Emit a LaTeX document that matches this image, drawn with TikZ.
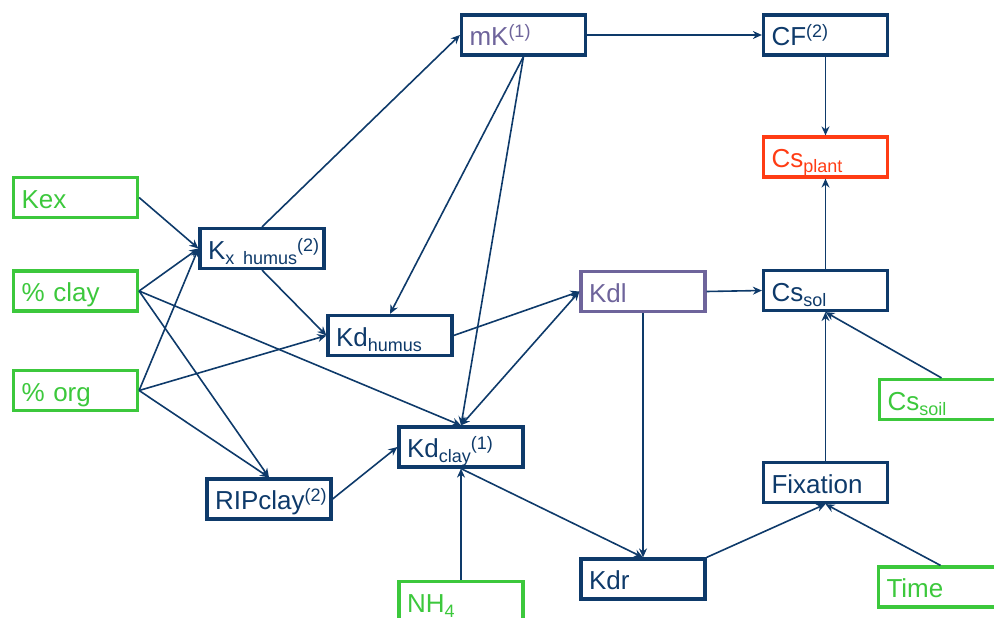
\documentclass[tikz,border=0pt]{standalone}
\usepackage{fontspec}
\setmainfont{Liberation Sans}
\usetikzlibrary{arrows.meta}
\definecolor{navy}{RGB}{14,58,106}
\definecolor{leaf}{RGB}{60,200,60}
\definecolor{alert}{RGB}{255,60,20}
\definecolor{lilac}{RGB}{110,100,155}
\newcommand\up[1]{\raisebox{8pt}{\fontsize{18}{18}\selectfont #1}}
\newcommand\dn[1]{\raisebox{-5pt}{\fontsize{18}{18}\selectfont #1}}
\begin{document}
\begin{tikzpicture}[x=1pt,y=-1pt]
	\tikzstyle{box} = [draw=navy, text=navy, line width=3.2pt, minimum height=40pt, text width=108pt,
		inner xsep=8pt, inner ysep=2pt, text height=24pt, text depth=3pt, align=left,
		font=\fontsize{26}{30}\selectfont]
	\tikzstyle{input} = [box, draw=leaf, text=leaf]
	\tikzstyle{arrow} = [-{Stealth[length=9pt,width=8pt]}, line width=1.6pt, navy]
	\tikzstyle{both} = [{Stealth[length=9pt,width=8pt]}-{Stealth[length=9pt,width=8pt]}, line width=1.6pt, navy]
	
	\useasboundingbox (0,0) rectangle (994,618);
	% inputs
	\node [input] (kex) at (75.5,197.5) {Kex};
	\node [input] (clay) at (75.5,291) {\% clay};
	\node [input] (org) at (75.5,390.5) {\% org};
	\node [input] (nh4) at (461,601.5) {NH\dn{4}};
	\node [input] (cssoil) at (941.5,399.5) {Cs\dn{soil}};
	\node [input] (time) at (940.5,587) {Time};
	% model
	\node [box] (kxh) at (262,248.5) {K\dn{x humus}\up{(2)}};
	\node [box] (kdh) at (390,335.5) {Kd\dn{humus}};
	\node [box] (kdc) at (461,447) {Kd\dn{clay}\up{(1)}};
	\node [box] (rip) at (269,499) {RIPclay\up{(2)}};
	\node [box, text=lilac] (mk) at (523.5,35) {mK\up{(1)}};
	\node [box] (cf) at (825.5,35) {CF\up{(2)}};
	\node [box, draw=alert, text=alert] (csplant) at (825.5,157) {Cs\dn{plant}};
	\node [box, draw=lilac, text=lilac] (kdl) at (643,291.5) {Kdl};
	\node [box] (cssol) at (825.5,290.5) {Cs\dn{sol}};
	\node [box] (fix) at (825.5,482.5) {Fixation};
	\node [box] (kdr) at (643,579) {Kdr};
	
	\foreach \a in {kex,clay,org}
	{
		\draw [arrow] (\a.east) -- (kxh.west);
	}
	\draw [arrow] (clay.east) -- (kdc.north);
	\draw [arrow] (clay.east) -- (rip.north);
	\draw [arrow] (org.east) -- (kdh.west);
	\draw [arrow] (org.east) -- (rip.north);
	\draw [arrow] (kxh.north) -- (mk.west);
	\draw [arrow] (kxh.south) -- (kdh.west);
	\draw [arrow] (mk.south) -- (kdh.north);
	\draw [arrow] (mk.south) -- (kdc.north);
	\draw [arrow] (mk.east) -- (cf.west);
	\draw [arrow] (cf.south) -- (csplant.north);
	\draw [arrow] (cssol.north) -- (csplant.south);
	\draw [arrow] (kdh.east) -- (kdl.west);
	\draw [both] (kdc.north) -- (kdl.west);
	\draw [arrow] (kdl.east) -- (cssol.west);
	\draw [arrow] (kdl.south) -- (kdr.north);
	\draw [arrow] (kdc.south) -- (kdr.north);
	\draw [arrow] (nh4.north) -- (kdc.south);
	\draw [arrow] (rip.east) -- (kdc.west);
	\draw [arrow] (kdr.north east) -- (fix.south);
	\draw [arrow] (time.north) -- (fix.south);
	\draw [arrow] (fix.north) -- (cssol.south);
	\draw [arrow] (cssoil.north) -- (cssol.south);
\end{tikzpicture}
\end{document}
